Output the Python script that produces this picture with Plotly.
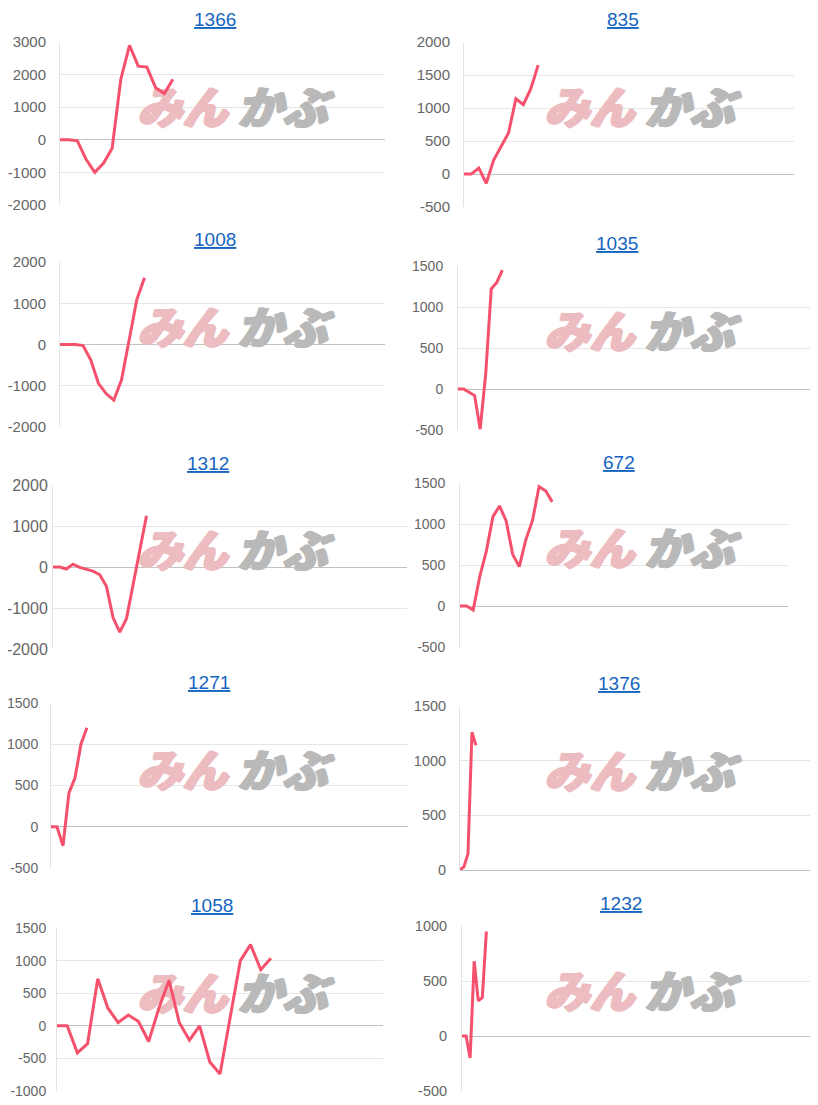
import plotly.graph_objects as go

W, H = 818, 1105
PAD = 8  # the page body margin shifts the figure by 8px

titles = ["1366", "835", "1008", "1035", "1312", "672", "1271", "1376", "1058", "1232"]

vals_1366 = [0, 0, -30, -600, -1000, -720, -260, 1860, 2900, 2260, 2230, 1600, 1420, 1860]
vals_835 = [0, 0, 90, -140, 210, 410, 620, 1140, 1050, 1290, 1650]
vals_1008 = [0, 0, 0, -25, -370, -940, -1190, -1350, -860, 110, 1090, 1620]
vals_1035 = [0, 0, -40, -80, -490, 185, 1220, 1300, 1450]
vals_1312 = [0, 0, -50, 70, -10, -60, -100, -190, -470, -1240, -1590, -1260, -420, 410, 1250]
vals_672 = [0, 0, -50, 360, 670, 1090, 1220, 1040, 630, 480, 810, 1040, 1455, 1405, 1270]
vals_1271 = [0, 0, -230, 410, 590, 1000, 1200]
vals_1376 = [0, 30, 150, 1260, 1140]
vals_1058 = [0, 0, -415, -275, 720, 270, 50, 165, 65, -240, 270, 700, 50, -220, 0,
             -555, -740, 140, 1000, 1245, 860, 1035]
vals_1232 = [0, 0, -200, 680, 320, 350, 950]

series = [vals_1366, vals_835, vals_1008, vals_1035, vals_1312,
          vals_672, vals_1271, vals_1376, vals_1058, vals_1232]

y_min = [-2000, -500, -2000, -500, -2000, -500, -500, 0, -1000, -500]
y_max = [3000, 2000, 2000, 1500, 2000, 1500, 1500, 1500, 1500, 1000]
y_step = [1000, 500, 1000, 500, 1000, 500, 500, 500, 500, 500]
x_slots = [37.4, 44.5, 42.3, 64.4, 53, 49.8, 59.6, 89, 32, 87.6]

# pixel boxes (in the screenshot) of each plot area: left, right, top, bottom
boxes = [
    (60, 385, 42, 205), (464, 794, 42, 207),
    (60, 385, 262, 427), (458, 815, 266, 430),
    (53, 407, 485, 649), (460, 788, 483, 647),
    (51, 408, 703, 868), (460, 815, 706, 870),
    (57, 383, 928, 1091), (462, 818, 926, 1091),
]
title_pos = [(215, 20), (623, 20), (215, 239), (617, 243), (208, 463),
             (619, 462), (209, 682), (619, 683), (212, 905), (621, 903)]
logo_y = [113, 113, 333, 337, 556, 554, 776, 777, 999, 997]
tick_size = [15, 15, 15, 14, 16, 14, 14, 14.5, 14, 14.5]
tick_gap = [10, 10, 10, 11, 1, 11, 9, 10, 7, 11]

LINE = "#f5516d"
fig = go.Figure()


def fx(px):
    return (px - PAD) / W


def fy(py):
    return 1 - (py - PAD) / H


def heavy(col):
    # fake a heavier weight for the watermark glyphs
    return ", ".join(f"{dx}px {dy}px 0px {col}"
                     for dx, dy in [(1, 0), (-1, 0), (0, 1), (2, 0), (1, 1)])


for i, vals in enumerate(series):
    n = i + 1
    xa = "x" if n == 1 else f"x{n}"
    ya = "y" if n == 1 else f"y{n}"
    l, r, t, b = boxes[i]
    x1 = x_slots[i]

    def to_data(px, py):
        xd = (px - l) / (r - l) * x1
        yd = y_min[i] + (b - py) / (b - t) * (y_max[i] - y_min[i])
        return xd, yd

    # watermark first, so the line is drawn over it
    cx = 233 if i % 2 == 0 else 640
    for txt, off, col in [("みん", -51, "#ecbcc0"), ("かぶ", 49, "#b9b9b9")]:
        xd, yd = to_data(cx + off, logo_y[i])
        fig.add_trace(go.Scatter(
            x=[xd], y=[yd], mode="text", text=[txt],
            textfont=dict(family="Noto Sans CJK JP", size=45, color=col,
                          weight=900, style="italic", shadow=heavy(col)),
            xaxis=xa, yaxis=ya, hoverinfo="skip", showlegend=False,
            cliponaxis=False,
        ))

    fig.add_trace(go.Scatter(
        x=list(range(len(vals))), y=vals, mode="lines",
        line=dict(color=LINE, width=3),
        xaxis=xa, yaxis=ya, showlegend=False,
        hoverinfo="skip", cliponaxis=False,
    ))

    ticks = list(range(y_min[i], y_max[i] + 1, y_step[i]))
    fig.layout[f"xaxis{'' if n == 1 else n}"] = dict(
        domain=[fx(l), fx(r)], anchor=ya, range=[0, x1], automargin=False,
        showgrid=False, zeroline=False, showticklabels=False, showline=False,
        fixedrange=True,
    )
    fig.layout[f"yaxis{'' if n == 1 else n}"] = dict(
        domain=[fy(b), fy(t)], anchor=xa, automargin=False,
        range=[y_min[i], y_max[i]],
        tickvals=ticks, ticktext=[str(v) for v in ticks],
        showgrid=True, gridcolor="#e6e6e6", gridwidth=1,
        zeroline=True, zerolinecolor="#c2c2c2", zerolinewidth=1,
        showline=True, linecolor="#e3e3e3", linewidth=1,
        ticks="", ticklabelstandoff=tick_gap[i],
        tickfont=dict(family="Arial, Liberation Sans", size=tick_size[i],
                      color="#666666"),
        fixedrange=True,
    )

    tx, ty = title_pos[i]
    fig.add_annotation(
        x=fx(tx), y=fy(ty), xref="paper", yref="paper",
        text=f"<u>{titles[i]}</u>", showarrow=False,
        xanchor="center", yanchor="middle",
        font=dict(family="Arial, Liberation Sans", size=19, color="#1565c0"),
    )

fig.update_layout(
    width=W, height=H,
    margin=dict(l=0, r=0, t=0, b=0, autoexpand=False),
    paper_bgcolor="white", plot_bgcolor="white",
)

fig.write_html("out.html")
